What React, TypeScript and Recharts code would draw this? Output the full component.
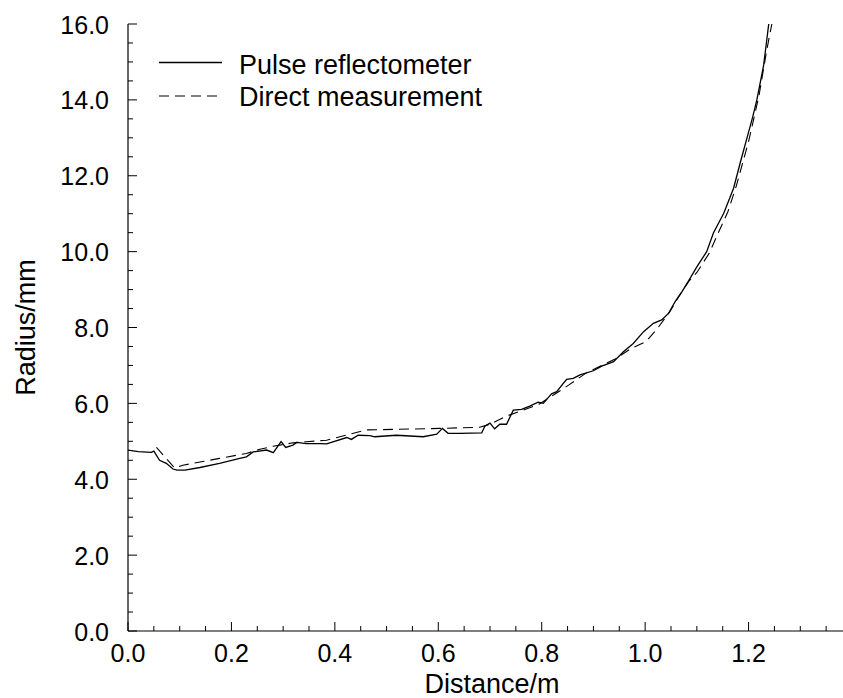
import React from 'react';
import { LineChart, Line, XAxis, YAxis, Legend } from 'recharts';

const FONT = '"Liberation Sans", Arial, Helvetica, sans-serif';

// Pulse reflectometer (solid)
const pulseDistance = [0.000, 0.020, 0.045, 0.050, 0.061, 0.074, 0.087, 0.095, 0.110, 0.139, 0.177, 0.216, 0.229, 0.242, 0.268, 0.281, 0.296, 0.305, 0.319, 0.326, 0.345, 0.371, 0.384, 0.423, 0.432, 0.445, 0.468, 0.477, 0.519, 0.571, 0.597, 0.608, 0.619, 0.642, 0.684, 0.690, 0.700, 0.709, 0.719, 0.732, 0.745, 0.761, 0.777, 0.793, 0.803, 0.819, 0.829, 0.839, 0.848, 0.861, 0.874, 0.900, 0.916, 0.939, 0.958, 0.977, 0.997, 1.016, 1.032, 1.045, 1.058, 1.071, 1.084, 1.100, 1.119, 1.132, 1.152, 1.171, 1.184, 1.197, 1.208, 1.216, 1.229, 1.239, 1.242];
const pulseRadius = [4.77, 4.73, 4.71, 4.74, 4.50, 4.42, 4.27, 4.24, 4.24, 4.31, 4.42, 4.55, 4.59, 4.72, 4.77, 4.70, 4.99, 4.84, 4.90, 4.97, 4.94, 4.94, 4.93, 5.10, 5.05, 5.16, 5.15, 5.12, 5.16, 5.12, 5.19, 5.34, 5.21, 5.21, 5.22, 5.40, 5.48, 5.33, 5.45, 5.45, 5.82, 5.84, 5.93, 6.03, 6.00, 6.25, 6.31, 6.48, 6.63, 6.66, 6.75, 6.86, 6.98, 7.10, 7.36, 7.58, 7.89, 8.11, 8.20, 8.37, 8.68, 8.94, 9.23, 9.60, 10.00, 10.49, 11.01, 11.67, 12.35, 13.00, 13.55, 14.00, 14.90, 16.00, 16.30];

// Direct measurement (dashed)
const directDistance = [0.055, 0.068, 0.090, 0.106, 0.177, 0.229, 0.255, 0.281, 0.319, 0.345, 0.384, 0.429, 0.461, 0.603, 0.680, 0.700, 0.729, 0.762, 0.795, 0.825, 0.852, 0.887, 0.942, 0.973, 1.002, 1.024, 1.048, 1.063, 1.084, 1.100, 1.124, 1.140, 1.160, 1.176, 1.200, 1.220, 1.235, 1.245, 1.248];
const directRadius = [4.84, 4.64, 4.30, 4.37, 4.55, 4.68, 4.79, 4.87, 4.96, 4.99, 5.03, 5.19, 5.30, 5.34, 5.37, 5.45, 5.65, 5.81, 5.98, 6.24, 6.48, 6.81, 7.17, 7.45, 7.63, 7.98, 8.42, 8.77, 9.21, 9.45, 9.96, 10.45, 11.05, 11.72, 12.90, 14.10, 15.30, 16.00, 16.30];

const xTicks = [0, 0.05, 0.1, 0.15, 0.2, 0.25, 0.3, 0.35, 0.4, 0.45, 0.5, 0.55, 0.6, 0.65, 0.7, 0.75, 0.8, 0.85, 0.9, 0.95, 1.0, 1.05, 1.1, 1.15, 1.2, 1.25, 1.3, 1.35, 1.4];
const xLabels = ['0.0', '0.2', '0.4', '0.6', '0.8', '1.0', '1.2'];
const yTicks = [0, 0.5, 1, 1.5, 2, 2.5, 3, 3.5, 4, 4.5, 5, 5.5, 6, 6.5, 7, 7.5, 8, 8.5, 9, 9.5, 10, 10.5, 11, 11.5, 12, 12.5, 13, 13.5, 14, 14.5, 15, 15.5, 16];
const yLabels = ['0.0', '2.0', '4.0', '6.0', '8.0', '10.0', '12.0', '14.0', '16.0'];

const pulseData = pulseDistance.map((d, i) => ({ d, r: pulseRadius[i] }));
const directData = directDistance.map((d, i) => ({ d, r: directRadius[i] }));

const fmt = (v: number) => v.toFixed(1);

const isMajorX = (v: number) => Math.abs(v / 0.2 - Math.round(v / 0.2)) < 1e-6;

const XTick = (props: any) => {
  const { x, y, payload, side } = props;
  const v = payload.value;
  const label = fmt(v);
  const major = isMajorX(v);
  const len = major ? 9 : 5;
  const dir = side === 'bottom' ? -1 : 1;
  return (
    <g>
      <line x1={x} y1={y} x2={x} y2={y + dir * len} stroke="#000" strokeWidth={1} />
      {side === 'bottom' && major && xLabels.includes(label) ? (
        <text x={x} y={y + 31} textAnchor="middle" fontSize={25} fontFamily={FONT} fill="#000">
          {label}
        </text>
      ) : null}
    </g>
  );
};

const YTick = (props: any) => {
  const { x, y, payload, side } = props;
  const v = payload.value;
  const label = fmt(v);
  const major = Math.abs(v / 2 - Math.round(v / 2)) < 1e-6;
  const len = major ? 9 : 5;
  const dir = side === 'left' ? 1 : -1;
  return (
    <g>
      <line x1={x} y1={y} x2={x + dir * len} y2={y} stroke="#000" strokeWidth={1} />
      {side === 'left' && major && yLabels.includes(label) ? (
        <text x={x - 19} y={y + 9.5} textAnchor="end" fontSize={25} fontFamily={FONT} fill="#000">
          {label}
        </text>
      ) : null}
    </g>
  );
};

const XTitle = (props: any) => {
  const vb = props.viewBox || { x: 128, y: 631, width: 724, height: 67 };
  return (
    <text x={vb.x + vb.width / 2 + 2} y={vb.y + vb.height - 5} textAnchor="middle" fontSize={27} fontFamily={FONT} fill="#000">
      Distance/m
    </text>
  );
};

const YTitle = (props: any) => {
  const vb = props.viewBox || { x: 0, y: 24, width: 128, height: 607 };
  const cx = vb.x + 35;
  const cy = vb.y + vb.height / 2;
  return (
    <text x={cx} y={cy} transform={`rotate(-90, ${cx}, ${cy})`} textAnchor="middle" fontSize={27} fontFamily={FONT} fill="#000">
      Radius/mm
    </text>
  );
};

const renderLegend = () => (
  <svg width={520} height={120} style={{ display: 'block' }}>
    <line x1={159} y1={62.5} x2={222} y2={62.5} stroke="#000" strokeWidth={1.3} />
    <text x={239} y={74.3} fontSize={27} fontFamily={FONT} fill="#000">Pulse reflectometer</text>
    <line x1={159} y1={96} x2={222} y2={96} stroke="#000" strokeWidth={1.1} strokeDasharray="10 6" />
    <text x={239} y={105.7} fontSize={27} fontFamily={FONT} fill="#000">Direct measurement</text>
  </svg>
);

export default function App() {
  return (
    <div style={{ position: 'fixed', left: 0, top: 0, width: 843, height: 698, overflow: 'hidden', background: '#fff' }}>
      <LineChart width={860} height={698} margin={{ top: 24, right: 8, bottom: 0, left: 0 }}>
        <XAxis
          xAxisId={0}
          type="number"
          dataKey="d"
          domain={[0, 1.4]}
          ticks={xTicks}
          interval={0}
          allowDataOverflow
          tickLine={false}
          tickSize={0}
          tickMargin={0}
          height={67}
          axisLine={{ stroke: '#000', strokeWidth: 1.2 }}
          tick={(p: any) => <XTick {...p} side="bottom" />}
          label={(p: any) => <XTitle {...p} />}
        />
        <XAxis
          xAxisId="top"
          orientation="top"
          type="number"
          dataKey="d"
          domain={[0, 1.4]}
          ticks={xTicks}
          interval={0}
          allowDataOverflow
          tickLine={false}
          tickSize={0}
          tickMargin={0}
          height={0}
          axisLine={{ stroke: '#000', strokeWidth: 1.2 }}
          tick={(p: any) => <XTick {...p} side="top" />}
        />
        <YAxis
          yAxisId={0}
          type="number"
          domain={[0, 16]}
          ticks={yTicks}
          interval={0}
          allowDataOverflow
          tickLine={false}
          tickSize={0}
          tickMargin={0}
          width={128}
          axisLine={{ stroke: '#000', strokeWidth: 1.2 }}
          tick={(p: any) => <YTick {...p} side="left" />}
          label={(p: any) => <YTitle {...p} />}
        />
        <YAxis
          yAxisId="right"
          orientation="right"
          type="number"
          domain={[0, 16]}
          ticks={yTicks}
          interval={0}
          allowDataOverflow
          tickLine={false}
          tickSize={0}
          tickMargin={0}
          width={0}
          axisLine={{ stroke: '#000', strokeWidth: 1.2 }}
          tick={(p: any) => <YTick {...p} side="right" />}
        />
        <Legend
          content={renderLegend}
          layout="horizontal"
          verticalAlign="middle"
          align="center"
          wrapperStyle={{ left: 0, top: 0, width: 520, height: 120 }}
        />
        <Line
          data={pulseData}
          dataKey="r"
          xAxisId={0}
          yAxisId={0}
          type="linear"
          dot={false}
          activeDot={false}
          stroke="#000"
          strokeWidth={1.3}
          isAnimationActive={false}
          legendType="none"
        />
        <Line
          data={directData}
          dataKey="r"
          xAxisId={0}
          yAxisId={0}
          type="linear"
          dot={false}
          activeDot={false}
          stroke="#000"
          strokeWidth={1.1}
          strokeDasharray="10 6"
          isAnimationActive={false}
          legendType="none"
        />
      </LineChart>
    </div>
  );
}
